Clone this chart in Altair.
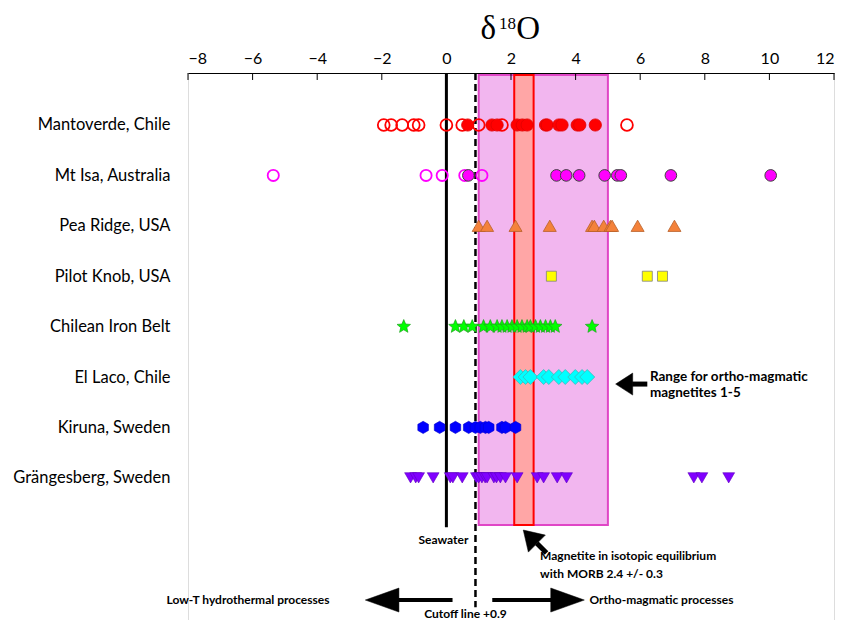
import math
import altair as alt
import pandas as pd

# ---------------- data ----------------
sites = ["Mantoverde, Chile", "Mt Isa, Australia", "Pea Ridge, USA", "Pilot Knob, USA",
         "Chilean Iron Belt", "El Laco, Chile", "Kiruna, Sweden", "Grängesberg, Sweden"]
x_ticks = [-8, -6, -4, -2, 0, 2, 4, 6, 8, 10, 12]

mantoverde_open = [-1.94, -1.71, -1.37, -1.01, -0.86, 0.0, 0.49, 1.0, 1.72, 5.59]
mantoverde_filled = [0.66, 1.41, 1.57, 2.19, 2.35, 2.5, 3.07, 3.12, 3.48, 3.58, 4.05, 4.13, 4.61]
mtisa_open = [-5.36, -0.63, -0.13, 0.57, 1.10]
mtisa_filled = [0.68, 3.41, 3.71, 4.11, 4.90, 5.29, 5.40, 6.95, 10.04]
pea_ridge = [1.0, 1.26, 2.14, 3.2, 4.51, 4.58, 4.87, 5.08, 5.13, 5.92, 7.06]
pilot_knob = [3.25, 6.22, 6.69]
chilean = [-1.32, 0.28, 0.54, 0.8, 1.15, 1.36, 1.57, 1.72, 1.88, 2.03, 2.19, 2.34,
           2.5, 2.6, 2.76, 2.91, 3.07, 3.22, 3.37, 4.51]
el_laco = [2.29, 2.45, 2.6, 3.01, 3.17, 3.48, 3.68, 3.99, 4.2, 4.36]
kiruna = [-0.72, -0.21, 0.28, 0.69, 0.9, 1.05, 1.21, 1.31, 1.72, 1.83, 2.14]
grangesberg = [-1.11, -0.95, -0.86, -0.41, 0.12, 0.2, 0.49, 0.93, 1.0, 1.1, 1.2, 1.26,
               1.47, 1.55, 1.67, 1.83, 2.19, 2.81, 3.01, 3.43, 3.72, 7.66, 7.91, 8.74]

ortho_range = [1.0, 5.0]
morb_range = [2.1, 2.7]
seawater = 0.0
cutoff = 0.9

# ---------------- scales & axes (shared by every layer) ----------------
XS = alt.Scale(domain=[-8, 12], nice=False, zero=False)
YS = alt.Scale(domain=[-1.0317, 9.821], nice=False, zero=False, reverse=True)
label_expr = "[" + ",".join("'" + s + "'" for s in sites) + "][datum.value]"
AX = alt.Axis(orient="top", values=x_ticks, ticks=False, grid=False, domain=True,
              domainColor="black", domainWidth=1, labelFont="Lato", labelFontSize=16,
              labelColor="black", labelPadding=7, title=None)
AY = alt.Axis(orient="left", values=list(range(8)), labelExpr=label_expr, ticks=False,
              grid=False, domain=False, labelFont="Lato", labelFontSize=16.5,
              labelColor="black", labelPadding=18, title=None)

def X(f="x"):
    return alt.X(f + ":Q", scale=XS, axis=AX)

def Y(f="r"):
    return alt.Y(f + ":Q", scale=YS, axis=AY)

def df(vals, row):
    return pd.DataFrame({"x": vals, "r": [row] * len(vals)})

def enc_pts(ch):
    return ch.encode(x=X(), y=Y())

# custom symbol paths
def star_path(n=5, inner=0.45):
    pts = []
    for k in range(2 * n):
        a = math.radians(-90 + 180 * k / n)
        rad = 1.0 if k % 2 == 0 else inner
        pts.append(f"{rad*math.cos(a):.3f} {rad*math.sin(a):.3f}")
    return "M " + " L ".join(pts) + " Z"

def hex_path():
    pts = []
    for k in range(6):
        a = math.radians(-90 + 60 * k)
        pts.append(f"{math.cos(a):.3f} {math.sin(a):.3f}")
    return "M " + " L ".join(pts) + " Z"

STAR = star_path()
HEX = hex_path()

# ---------------- background box & band ----------------
box = alt.Chart(pd.DataFrame({"x": [ortho_range[0]], "x2": [ortho_range[1]],
                              "r": [-0.992], "r2": [7.937]})).mark_rect(
    fill="#F2B6EF", stroke="#E046C6", strokeWidth=2).encode(
    x=X(), x2="x2:Q", y=Y(), y2="r2:Q")

band = alt.Chart(pd.DataFrame({"x": [morb_range[0]], "x2": [morb_range[1]],
                               "r": [-0.992], "r2": [7.937]})).mark_rect(
    fill="#FFA6A6", stroke="#FF0000", strokeWidth=2).encode(
    x=X(), x2="x2:Q", y=Y(), y2="r2:Q")

ticks = alt.Chart(pd.DataFrame({"x": x_ticks, "r": [-1.0317] * len(x_ticks),
                                "r2": [-0.893] * len(x_ticks)})).mark_rule(
    color="black", strokeWidth=1).encode(x=X(), y=Y(), y2="r2:Q")

sea = alt.Chart(pd.DataFrame({"x": [seawater], "r": [-1.03], "r2": [7.98]})).mark_rule(
    color="black", strokeWidth=3).encode(x=X(), y=Y(), y2="r2:Q")

cut = alt.Chart(pd.DataFrame({"x": [cutoff], "r": [-1.03], "r2": [9.57]})).mark_rule(
    color="black", strokeWidth=2.5, strokeDash=[7, 4]).encode(x=X(), y=Y(), y2="r2:Q")

# ---------------- data points ----------------
layers_pts = [
    enc_pts(alt.Chart(df(mantoverde_open, 0)).mark_point(
        shape="circle", filled=False, stroke="#FF0000", strokeWidth=1.8, size=140, opacity=1)),
    enc_pts(alt.Chart(df(mantoverde_filled, 0)).mark_point(
        shape="circle", filled=True, fill="#FF0000", stroke="#E00000", strokeWidth=0.8,
        size=150, opacity=1)),
    enc_pts(alt.Chart(df(mtisa_open, 1)).mark_point(
        shape="circle", filled=False, stroke="#FF00FF", strokeWidth=1.8, size=125, opacity=1)),
    enc_pts(alt.Chart(df(mtisa_filled, 1)).mark_point(
        shape="circle", filled=True, fill="#FF00FF", stroke="#404040", strokeWidth=1,
        size=135, opacity=1)),
    enc_pts(alt.Chart(df(pea_ridge, 2)).mark_point(
        shape="triangle-up", filled=True, fill="#F4823A", stroke="#B86028", strokeWidth=0.8,
        size=170, opacity=1)),
    enc_pts(alt.Chart(df(pilot_knob, 3)).mark_point(
        shape="square", filled=True, fill="#FFFF00", stroke="#808080", strokeWidth=0.8,
        size=100, opacity=1)),
    enc_pts(alt.Chart(df(chilean, 4)).mark_point(
        shape=STAR, filled=True, fill="#00FF00", stroke="#20A020", strokeWidth=0.7,
        size=200, opacity=1)),
    enc_pts(alt.Chart(df(el_laco, 5)).mark_point(
        shape="diamond", filled=True, fill="#00FFFF", stroke="#40B8B8", strokeWidth=0.8,
        size=225, opacity=1)),
    enc_pts(alt.Chart(df(kiruna, 6)).mark_point(
        shape=HEX, filled=True, fill="#0000FF", stroke="#0000CC", strokeWidth=0.6,
        size=150, opacity=1)),
    enc_pts(alt.Chart(df(grangesberg, 7)).mark_point(
        shape="triangle-down", filled=True, fill="#8000FF", stroke="#6000C0", strokeWidth=0.6,
        size=140, opacity=1)),
]

# ---------------- annotations ----------------
HEAD_L = "M 0 0 L 1.55 -1 L 1.55 1 Z"
HEAD_L2 = "M 0 0 L 2.8 -1 L 2.8 1 Z"
HEAD_R2 = "M 0 0 L -2.8 -1 L -2.8 1 Z"
HEAD_MORB = "M 0 0 L 1.6 -1 L 1.6 1 Z"

def head(x, r, shape, size, angle=0):
    return alt.Chart(pd.DataFrame({"x": [x], "r": [r]})).mark_point(
        shape=shape, filled=True, fill="black", stroke="black", strokeWidth=0.5,
        size=size, opacity=1, angle=angle).encode(x=X(), y=Y())

def shaft(x, x2, r, r2, w):
    return alt.Chart(pd.DataFrame({"x": [x], "x2": [x2], "r": [r], "r2": [r2]})).mark_rule(
        color="black", strokeWidth=w).encode(x=X(), x2="x2:Q", y=Y(), y2="r2:Q")

def text(x, r, s, size=12, align="left", weight="bold", font="Lato", baseline="middle"):
    return alt.Chart(pd.DataFrame({"x": [x], "r": [r], "t": [s]})).mark_text(
        align=align, baseline=baseline, font=font, fontSize=size, fontWeight=weight,
        color="black").encode(x=X(), y=Y(), text="t:N")

ann = [
    # range arrow
    shaft(5.75, 6.22, 5.14, 5.14, 5),
    head(5.24, 5.14, HEAD_L, 484),
    text(6.3, 5.0, "Range for ortho-magmatic", size=13.5),
    text(6.3, 5.32, "magnetites 1-5", size=13.5),
    # MORB arrow
    shaft(2.80, 3.10, 8.30, 8.49, 5),
    head(2.38, 8.036, HEAD_MORB, 576, angle=45),
    text(2.9, 8.55, "Magnetite in isotopic equilibrium"),
    text(2.9, 8.91, "with MORB 2.4 +/- 0.3"),
    # seawater
    text(-0.09, 8.23, "Seawater", align="center"),
    # bottom arrows
    shaft(-1.5, 0.19, 9.425, 9.425, 4),
    head(-2.51, 9.425, HEAD_L2, 576),
    text(-3.62, 9.425, "Low-T hydrothermal processes", align="right"),
    shaft(1.42, 3.25, 9.425, 9.425, 4),
    head(4.27, 9.425, HEAD_R2, 576),
    text(4.43, 9.425, "Ortho-magmatic processes"),
    text(0.59, 9.70, "Cutoff line +0.9", align="center"),
    # title delta-18-O
    text(1.30, -1.706, "δ", size=33, align="center", weight="normal",
         font="Liberation Serif", baseline="alphabetic"),
    text(1.89, -1.905, "18", size=17, align="center", weight="normal",
         font="Liberation Serif", baseline="alphabetic"),
    text(2.53, -1.706, "O", size=33, align="center", weight="normal",
         font="Liberation Serif", baseline="alphabetic"),
]

chart = alt.layer(box, band, ticks, sea, cut, *layers_pts, *ann).properties(
    width=646, height=547,
    autosize=alt.AutoSizeParams(type="none"),
    padding={"left": 180, "top": 65, "right": 3, "bottom": 0},
).configure_view(stroke=None).configure(background="white")

chart.save("out.html", embed_options={"renderer": "svg", "actions": False})
